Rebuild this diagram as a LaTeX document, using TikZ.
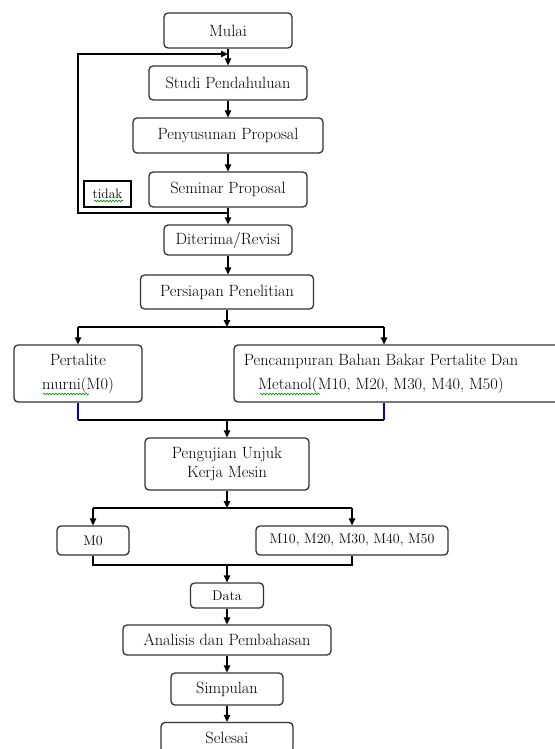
\documentclass[tikz,border=0pt]{standalone}
\usetikzlibrary{arrows.meta,decorations.pathmorphing}
\begin{document}
\begin{tikzpicture}[x=1pt,y=-1pt,
  box/.style={draw=black!80, line width=1.3pt, rounded corners=4pt, align=center,
    inner sep=0pt, font=\fontsize{16.3}{19}\selectfont},
  smallbox/.style={box, font=\fontsize{14}{16}\selectfont},
  ln/.style={line width=1.3pt, black},
  arr/.style={ln, -{Triangle[length=7pt,width=6.5pt]}},
  blueln/.style={line width=1.3pt, blue!85!black},
  wavy/.style={green!55!black, line width=0.6pt, decorate,
    decoration={snake, amplitude=0.9pt, segment length=3pt}}]
\useasboundingbox (0,0) rectangle (554,749);

% main nodes
\node[box, minimum width=128, minimum height=35] (mulai) at (228,30.5) {Mulai};
\node[box, minimum width=158, minimum height=34] (studi) at (228,83) {Studi Pendahuluan};
\node[box, minimum width=190, minimum height=35] (susun) at (228,135.5) {Penyusunan Proposal};
\node[box, minimum width=158, minimum height=35] (seminar) at (228,189.5) {Seminar Proposal};
\node[draw=black, line width=1.2pt, minimum width=47, minimum height=26, inner sep=0pt,
      font=\fontsize{13.5}{15}\selectfont] (tidak) at (107.5,194) {tidak};
\node[box, minimum width=128, minimum height=30] (terima) at (228,240) {Diterima/Revisi};
\node[box, minimum width=173, minimum height=34] (siap) at (227,292) {Persiapan Penelitian};
\node[box, minimum width=128, minimum height=57, font=\fontsize{16.3}{24}\selectfont] (pm) at (78,373.5) {Pertalite\\murni(M0)};
\node[box, minimum width=330, minimum height=57] (pc) at (399,373.5) {};
\node[align=center, inner sep=0pt, font=\fontsize{16.3}{24}\selectfont] (pctext) at (381,373.5)
  {Pencampuran Bahan Bakar Pertalite Dan\\Metanol(M10, M20, M30, M40, M50)};
\node[box, minimum width=164, minimum height=52, font=\fontsize{16.3}{19.5}\selectfont] (uji) at (227,464) {Pengujian Unjuk\\Kerja Mesin};
\node[smallbox, minimum width=72, minimum height=29] (m0) at (93,540.5) {M0};
\node[smallbox, minimum width=192, minimum height=29] (mx) at (352,540.5) {M10, M20, M30, M40, M50};
\node[smallbox, minimum width=73, minimum height=25] (data) at (227,595.5) {Data};
\node[box, minimum width=208, minimum height=30] (anal) at (227,640) {Analisis dan Pembahasan};
\node[box, minimum width=112, minimum height=32] (simp) at (227,689) {Simpulan};
\node[box, minimum width=132, minimum height=30] (sel) at (227,737.5) {Selesai};

% helper coordinates
\coordinate (jt) at (228,54);
\coordinate (jb) at (228,213);
\coordinate (lt) at (78,54);
\coordinate (lb) at (78,213);
\coordinate (s1) at (227,327);
\coordinate (s1l) at (78,327);
\coordinate (s1r) at (384,327);
\coordinate (m1) at (227,420);
\coordinate (m1l) at (78,420);
\coordinate (m1r) at (384,420);
\coordinate (s2) at (227,508);
\coordinate (s2l) at (93,508);
\coordinate (s2r) at (352,508);
\coordinate (m2) at (227,565);
\coordinate (m2l) at (93,565);
\coordinate (m2r) at (352,565);

% connectors
\draw[arr] (mulai.south) -- (studi.north);
\draw[arr] (jb) -- (lb) -- (lt) -- (jt);
\draw[arr] (studi.south) -- (susun.north);
\draw[arr] (susun.south) -- (seminar.north);
\draw[arr] (seminar.south) -- (terima.north);
\draw[arr] (terima.south) -- (siap.north -| terima.south);
\draw[arr] (siap.south) -- (s1);
\draw[ln] (s1l) -- (s1r);
\draw[arr] (s1l) -- (pm.north);
\draw[arr] (s1r) -- (s1r |- pc.north);
\draw[blueln] (pm.south) -- (m1l);
\draw[blueln] (m1r |- pc.south) -- (m1r);
\draw[ln] (m1l) -- (m1r);
\draw[arr] (m1) -- (uji.north);
\draw[arr] (uji.south) -- (s2);
\draw[ln] (s2l) -- (s2r);
\draw[arr] (s2l) -- (m0.north);
\draw[arr] (s2r) -- (mx.north);
\draw[ln] (m0.south) -- (m2l) -- (m2r) -- (mx.south);
\draw[arr] (m2) -- (data.north);
\draw[arr] (data.south) -- (anal.north);
\draw[arr] (anal.south) -- (simp.north);
\draw[arr] (simp.south) -- (sel.north);

% spell-check underlines
\draw[wavy] (43,394) -- (89,394);
\draw[wavy] (260,394) -- (320,394);
\draw[wavy] (94,201) -- (123,201);
\end{tikzpicture}
\end{document}
